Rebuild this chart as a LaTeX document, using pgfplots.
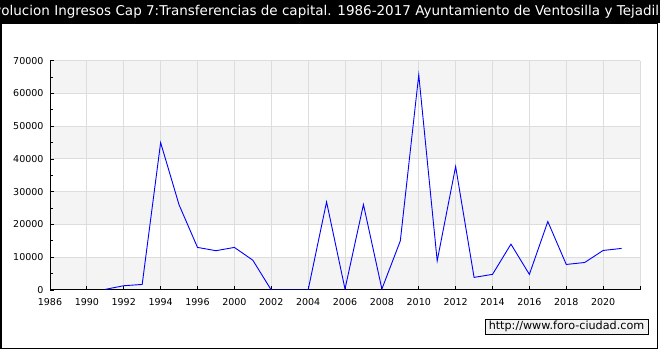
\documentclass[border=0pt]{standalone}
\usepackage{fontspec}
\setmainfont{DejaVu Sans}
\usepackage{pgfplots}
\pgfplotsset{compat=1.18}
\definecolor{band}{HTML}{F4F4F4}
\definecolor{gridc}{HTML}{DDDDDD}
\definecolor{wmfill}{HTML}{F2F2F2}
\begin{document}
\begin{tikzpicture}[x=1pt,y=1pt]
\useasboundingbox (0,0) rectangle (660,350);
\fill[white] (0,0) rectangle (660,350);
\fill[black] (0,327) rectangle (660,350);
\begin{scope}
\clip (0,327) rectangle (660,350);
\node[white,font=\fontsize{13.5}{15}\selectfont,anchor=center] at (328,338.5) {Evolucion Ingresos Cap 7:Transferencias de capital. 1986-2017 Ayuntamiento de Ventosilla y Tejadilla};
\end{scope}
\draw[black,line width=1.5pt] (0.75,1.5) rectangle (657.5,327);
\foreach \k in {0,2,4,6} {
  \fill[band] (50,{60+\k*229.3/7}) rectangle (640,{60+(\k+1)*229.3/7});
}
\begin{axis}[
  at={(50pt,60pt)}, anchor=south west,
  scale only axis, width=590pt, height=229.3pt,
  xmin=0, xmax=32, ymin=0, ymax=70000,
  axis x line*=bottom, axis y line*=left,
  axis line style={black, line width=1pt},
  xtick={0,2,...,32},
  xticklabels={1986,1990,1992,1994,1996,2000,2002,2004,2006,2008,2010,2012,2014,2016,2018,2020,{}},
  ytick={0,10000,...,70000},
  minor ytick={5000,15000,...,65000},
  scaled y ticks=false,
  /pgf/number format/1000 sep={},
  /pgf/number format/assume math mode=true,
  tick label style={font=\fontsize{9.5}{11}\selectfont, black},
  tick style={black, line width=0.8pt},
  major tick length=4pt, minor tick length=3pt,
  xmajorgrids, ymajorgrids,
  grid style={gridc, line width=1pt},
  yticklabel style={xshift=-3pt},
  xticklabel style={yshift=-5pt},
]
\addplot[blue, line width=0.9pt, mark=none] coordinates {
(3,200) (4,1300) (5,1700) (6,45000) (7,26000) (8,13000) (9,12000) (10,13000)
(11,9100) (12,0) (13,0) (14,0) (15,26900) (16,300) (17,26100) (18,300)
(19,15000) (20,65700) (21,8900) (22,37700) (23,3850) (24,4770) (25,14000)
(26,4770) (27,20900) (28,7800) (29,8400) (30,12070) (31,12700)
};
\end{axis}
\node[draw=black, fill=wmfill, line width=0.8pt, minimum width=163pt, minimum height=15pt, inner sep=0pt, font=\fontsize{11.2}{12}\selectfont] at (566.5,23.5) {http://www.foro-ciudad.com};
\end{tikzpicture}
\end{document}
